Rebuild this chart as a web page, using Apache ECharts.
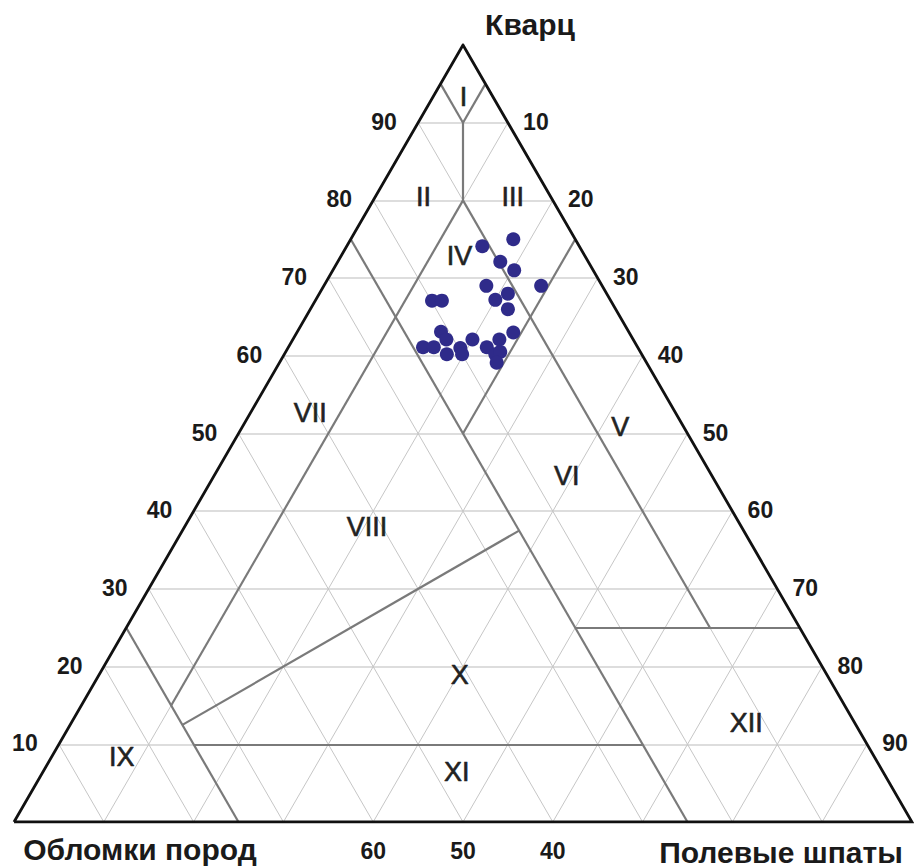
<!DOCTYPE html>
<html>
<head>
<meta charset="utf-8">
<script src="https://cdn.jsdelivr.net/npm/echarts@6/dist/echarts.min.js"></script>
<style>
html,body{margin:0;padding:0;background:#fff;}
#chart{width:914px;height:868px;}
</style>
</head>
<body>
<div id="chart"></div>
<script>
// ---- data (percent) ----
const gridSteps = [10, 20, 30, 40, 50, 60, 70, 80, 90];
const leftTickValues = [90, 80, 70, 60, 50, 40, 30, 20, 10];   // Кварц, left edge
const rightTickValues = [10, 20, 30, 40, 50, 60, 70, 80, 90];  // Полевые шпаты, right edge
const bottomTickValues = [60, 50, 40];                         // Обломки пород, base

const quartz       = [74.1, 75.0, 72.1, 71.0, 69.0, 68.0, 69.0, 67.2, 66.0, 67.1, 67.1, 63.0, 63.1, 62.1, 62.1, 62.1, 61.1, 61.1, 60.2, 61.0, 60.2, 61.1, 60.2, 60.5, 59.1];
const feldspar     = [15.1, 18.1, 18.1, 20.2, 18.1, 21.0, 24.2, 20.0, 22.0, 13.0, 14.1, 24.1, 16.0, 17.1, 20.0, 23.0, 15.0, 16.2, 18.1, 19.2, 19.8, 22.1, 23.5, 23.9, 24.2];
const rockFragments= [10.8,  6.9,  9.8,  8.8, 12.9, 11.0,  6.8, 12.8, 12.0, 19.9, 18.8, 12.9, 20.9, 20.8, 17.9, 14.9, 23.9, 22.7, 21.7, 19.8, 20.0, 16.8, 16.3, 15.6, 16.7];

const regionNames    = ['I', 'II', 'III', 'IV', 'V', 'VI', 'VII', 'VIII', 'IX', 'X', 'XI', 'XII'];
const regionQuartz   = [93.3, 80.4, 80.5, 72.8, 50.8, 44.5, 52.6, 38.0, 8.4, 18.9, 6.4, 12.7];
const regionFeldspar = [3.4, 5.4, 15.3, 13.2, 42.1, 39.3, 6.7, 20.3, 7.8, 40.2, 46.1, 75.2];

// class boundaries as [quartz, feldspar] end points
const boundaryStart = [[95, 0], [95, 5], [90, 5], [80, 10], [80, 10], [75, 0], [75, 25], [25, 0], [12.5, 12.5], [10, 15], [25, 50]];
const boundaryEnd   = [[90, 5], [90, 5], [80, 10], [15, 10], [25, 65], [0, 75], [50, 25], [0, 25], [37.5, 37.5], [10, 65], [25, 75]];

const cornerNames = ['Кварц', 'Обломки пород', 'Полевые шпаты'];

// ---- ternary -> cartesian ----
const S3 = Math.sqrt(3) / 2;
function toXY(q, f) { return [f + q / 2, q * S3]; }

const FONT = '"Liberation Sans", Arial, Helvetica, sans-serif';

const gridLines = [];
gridSteps.forEach(function (k) {
  gridLines.push({coords: [toXY(k, 0), toXY(k, 100 - k)]});        // quartz = k
  gridLines.push({coords: [toXY(0, k), toXY(100 - k, k)]});        // feldspar = k
  gridLines.push({coords: [toXY(0, 100 - k), toXY(100 - k, 0)]});  // fragments = k
});
const hGrid = gridLines.filter(function (d, i) { return i % 3 === 0; });
const dGrid = gridLines.filter(function (d, i) { return i % 3 !== 0; });

const boundaryLines = boundaryStart.map(function (s, i) {
  return {coords: [toXY(s[0], s[1]), toXY(boundaryEnd[i][0], boundaryEnd[i][1])]};
});

const frame = [{coords: [toXY(0, 0), toXY(0, 100), toXY(100, 0), toXY(0, 0)]}];

const points = quartz.map(function (q, i) { return toXY(q, feldspar[i]); });

const regionData = regionNames.map(function (n, i) {
  return {value: toXY(regionQuartz[i], regionFeldspar[i]), name: n};
});
const leftTicks = leftTickValues.map(function (v) { return {value: toXY(v, 0), name: String(v)}; });
const rightTicks = rightTickValues.map(function (v) { return {value: toXY(100 - v, v), name: String(v)}; });
const bottomTicks = bottomTickValues.map(function (v) { return {value: toXY(0, 100 - v), name: String(v)}; });

function labelSeries(data, offset, style) {
  return {
    type: 'scatter', data: data, symbolSize: 0, silent: true, z: 10,
    itemStyle: {color: '#1a1a1a', opacity: 1},
    label: Object.assign({
      show: true, position: 'inside', offset: offset,
      formatter: function (p) { return p.name; },
      color: '#1a1a1a', fontFamily: FONT, fontWeight: 'bold', fontSize: 23,
      textBorderWidth: 0, opacity: 1,
      align: 'center', verticalAlign: 'middle'
    }, style || {})
  };
}

const chart = echarts.init(document.getElementById('chart'), null, {renderer: 'svg'});
chart.setOption({
  animation: false,
  backgroundColor: '#ffffff',
  grid: {left: 14, top: 45, width: 898, height: 777, containLabel: false},
  xAxis: {type: 'value', min: 0, max: 100, show: false},
  yAxis: {type: 'value', min: 0, max: 100 * S3, show: false},
  graphic: [
    {type: 'text', x: 530, y: 24, style: {text: cornerNames[0], font: 'bold 30px ' + FONT, fill: '#1a1a1a', align: 'center', verticalAlign: 'middle'}},
    {type: 'text', x: 140, y: 849, style: {text: cornerNames[1], font: 'bold 30px ' + FONT, fill: '#1a1a1a', align: 'center', verticalAlign: 'middle'}},
    {type: 'text', x: 781, y: 852, style: {text: cornerNames[2], font: 'bold 30px ' + FONT, fill: '#1a1a1a', align: 'center', verticalAlign: 'middle'}}
  ],
  series: [
    {type: 'lines', coordinateSystem: 'cartesian2d', data: hGrid, silent: true, z: 1,
     lineStyle: {color: '#d2d2d2', width: 1.6, opacity: 1}},
    {type: 'lines', coordinateSystem: 'cartesian2d', data: dGrid, silent: true, z: 1,
     lineStyle: {color: '#c6c6c6', width: 1, opacity: 1}},
    {type: 'lines', coordinateSystem: 'cartesian2d', data: boundaryLines, silent: true, z: 2,
     lineStyle: {color: '#7a7a7a', width: 2.2, opacity: 1}},
    {type: 'lines', coordinateSystem: 'cartesian2d', polyline: true, data: frame, silent: true, z: 3,
     lineStyle: {color: '#111111', width: 2.8, opacity: 1, join: 'miter'}},
    {type: 'scatter', data: points, symbol: 'circle', symbolSize: 14, z: 5,
     itemStyle: {color: '#2f2b8a', opacity: 1}},
    labelSeries(regionData, [0, 0], {fontWeight: 'normal', fontSize: 27, color: '#222222', textBorderWidth: 0.6, textBorderColor: '#222222'}),
    labelSeries(leftTicks, [-34, -1]),
    labelSeries(rightTicks, [28, -1]),
    labelSeries(bottomTicks, [0, 29])
  ]
});
</script>
</body>
</html>
